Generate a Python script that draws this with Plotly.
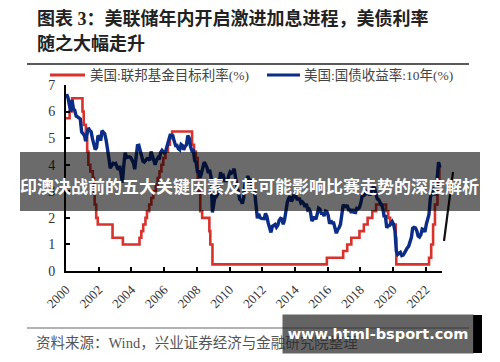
import pandas as pd
import plotly.graph_objects as go

# ---------------- text ----------------
title_line1 = "图表 3：美联储年内开启激进加息进程，美债利率"
title_line2 = "随之大幅走升"
source_text = "资料来源：Wind，兴业证券经济与金融研究院整理"
banner_text = "印澳决战前的五大关键因素及其可能影响比赛走势的深度解析"
watermark_text = "www.html-bsport.com"

fed_name = "美国:联邦基金目标利率(%)"
ust_name = "美国:国债收益率:10年(%)"

# ---------------- data ----------------
# Fed funds target rate (upper bound), step changes
fed_dates = [
    "2000-01-01", "2000-03-21", "2000-05-16",
    "2001-01-03", "2001-01-31", "2001-03-20", "2001-04-18", "2001-05-15",
    "2001-06-27", "2001-08-21", "2001-09-17", "2001-10-02", "2001-11-06",
    "2001-12-11", "2002-11-06", "2003-06-25",
    "2004-06-30", "2004-08-10", "2004-09-21", "2004-11-10", "2004-12-14",
    "2005-02-02", "2005-03-22", "2005-05-03", "2005-06-30", "2005-08-09",
    "2005-09-20", "2005-11-01", "2005-12-13", "2006-01-31", "2006-03-28",
    "2006-05-10", "2006-06-29",
    "2007-09-18", "2007-10-31", "2007-12-11", "2008-01-22", "2008-01-30",
    "2008-03-18", "2008-04-30", "2008-10-08", "2008-10-29", "2008-12-16",
    "2015-12-16", "2016-12-14", "2017-03-15", "2017-06-14", "2017-12-13",
    "2018-03-21", "2018-06-13", "2018-09-26", "2018-12-19",
    "2019-07-31", "2019-09-18", "2019-10-30", "2020-03-03", "2020-03-15",
    "2022-03-16", "2022-05-04", "2022-06-15", "2022-07-27", "2022-09-21",
    "2022-11-02", "2022-11-30",
]
fed_values = [
    5.75, 6.0, 6.5,
    6.0, 5.5, 5.0, 4.5, 4.0,
    3.75, 3.5, 3.0, 2.5, 2.0,
    1.75, 1.25, 1.0,
    1.25, 1.5, 1.75, 2.0, 2.25,
    2.5, 2.75, 3.0, 3.25, 3.5,
    3.75, 4.0, 4.25, 4.5, 4.75,
    5.0, 5.25,
    4.75, 4.5, 4.25, 3.5, 3.0,
    2.25, 2.0, 1.5, 1.0, 0.25,
    0.5, 0.75, 1.0, 1.25, 1.5,
    1.75, 2.0, 2.25, 2.5,
    2.25, 2.0, 1.75, 1.25, 0.25,
    0.5, 1.0, 1.75, 2.5, 3.25,
    4.0, 4.0,
]

# US 10Y Treasury yield, monthly readings 2000-01 .. 2022-11
ust_values = [
    6.66, 6.52, 6.26, 5.99, 6.44, 6.10, 6.05, 5.83, 5.80, 5.74, 5.72, 5.24,
    5.16, 5.10, 4.89, 5.14, 5.39, 5.28, 5.24, 4.97, 4.73, 4.57, 4.65, 5.09,
    5.04, 4.91, 5.28, 5.21, 5.16, 4.93, 4.65, 4.26, 3.87, 3.94, 4.05, 4.03,
    4.05, 3.90, 3.81, 3.96, 3.57, 3.33, 3.98, 4.45, 4.27, 4.29, 4.30, 4.27,
    4.15, 4.08, 3.83, 4.35, 4.72, 4.73, 4.50, 4.28, 4.13, 4.10, 4.19, 4.23,
    4.22, 4.17, 4.50, 4.34, 4.14, 4.00, 4.18, 4.26, 4.20, 4.46, 4.54, 4.47,
    4.42, 4.57, 4.72, 4.99, 5.11, 5.11, 5.09, 4.88, 4.72, 4.73, 4.60, 4.56,
    4.76, 4.72, 4.56, 4.69, 4.75, 5.10, 5.00, 4.67, 4.52, 4.53, 4.15, 4.10,
    3.74, 3.74, 3.51, 3.68, 3.88, 4.10, 4.01, 3.89, 3.69, 3.81, 3.53, 2.20,
    2.52, 2.87, 2.82, 2.93, 3.29, 3.72, 3.56, 3.59, 3.40, 3.39, 3.40, 3.59,
    3.73, 3.69, 3.73, 3.85, 3.42, 3.20, 3.01, 2.70, 2.65, 2.54, 2.76, 3.29,
    3.39, 3.58, 3.41, 3.46, 3.17, 3.00, 3.00, 2.30, 1.98, 2.15, 2.01, 1.98,
    1.97, 1.97, 2.17, 2.05, 1.80, 1.62, 1.45, 1.68, 1.72, 1.75, 1.65, 1.72,
    1.91, 1.98, 1.96, 1.76, 1.93, 2.30, 2.58, 2.74, 2.81, 2.62, 2.72, 2.90,
    2.86, 2.71, 2.72, 2.71, 2.56, 2.60, 2.54, 2.42, 2.53, 2.30, 2.33, 2.21,
    1.88, 1.98, 2.04, 1.94, 2.20, 2.36, 2.32, 2.17, 2.17, 2.07, 2.26, 2.24,
    2.09, 1.78, 1.89, 1.81, 1.81, 1.64, 1.42, 1.56, 1.63, 1.76, 2.14, 2.49,
    2.43, 2.42, 2.48, 2.30, 2.30, 2.19, 2.32, 2.21, 2.20, 2.36, 2.35, 2.40,
    2.58, 2.86, 2.84, 2.87, 2.98, 2.91, 2.89, 2.89, 3.00, 3.15, 3.12, 2.83,
    2.71, 2.68, 2.57, 2.53, 2.40, 2.07, 2.06, 1.63, 1.70, 1.71, 1.81, 1.86,
    1.76, 1.50, 0.75, 0.62, 0.66, 0.70, 0.58, 0.60, 0.68, 0.79, 0.87, 0.93,
    1.08, 1.26, 1.61, 1.64, 1.62, 1.52, 1.32, 1.28, 1.37, 1.58, 1.56, 1.47,
    1.76, 1.93, 2.13, 2.75, 2.90, 3.14, 2.90, 2.90, 3.52, 4.10, 3.89,
]
ust_dates = pd.date_range("2000-01-01", periods=len(ust_values), freq="MS") + pd.Timedelta(days=14)

x_tick_step_months = 24
y_range = [0, 7]
x_range = ["2000-01-01", "2022-12-31"]

# ---------------- styling / geometry ----------------
RED = "#d8322d"
BLUE = "#0c2d86"
W, H = 500, 362
PL, PR, PT, PB = 66, 442, 85, 271

def xp(px):
    return (px - PL) / (PR - PL)

def yp(py):
    return (PB - py) / (PB - PT)

SERIF = "Liberation Serif, Noto Sans CJK SC"

fig = go.Figure()
fig.add_trace(go.Scatter(x=fed_dates, y=fed_values, mode="lines", name=fed_name,
                         line=dict(color=RED, width=2.6, shape="hv"), showlegend=False))
fig.add_trace(go.Scatter(x=ust_dates, y=ust_values, mode="lines", name=ust_name,
                         line=dict(color=BLUE, width=3.4), showlegend=False))

fig.update_layout(
    width=W, height=H,
    margin=dict(l=PL, r=W - PR, t=PT, b=H - PB, pad=0, autoexpand=False),
    paper_bgcolor="white", plot_bgcolor="white",
    showlegend=False,
)
fig.update_xaxes(
    type="date", range=x_range, tick0="2000-01-01", dtick="M%d" % x_tick_step_months,
    tickformat="%Y", tickangle=-45, ticks="inside", ticklen=4, tickwidth=1.5, tickcolor="black",
    showline=True, linecolor="black", linewidth=2, showgrid=False, zeroline=False,
    tickfont=dict(family=SERIF, size=13, color="#333"), automargin=False, ticklabelstandoff=4,
)
fig.update_yaxes(
    range=y_range, dtick=1, ticks="inside", ticklen=4, tickwidth=1.5, tickcolor="black",
    showline=True, linecolor="black", linewidth=2, showgrid=False, zeroline=False,
    tickfont=dict(family=SERIF, size=14, color="#333"), ticklabelstandoff=6, automargin=False,
)

shapes = []
annotations = []

# title rule and footer rule
shapes.append(dict(type="line", xref="paper", yref="paper", x0=xp(27), x1=xp(469), y0=yp(64), y1=yp(64),
                   line=dict(color="#222", width=1.5)))
shapes.append(dict(type="line", xref="paper", yref="paper", x0=xp(27), x1=xp(469), y0=yp(328), y1=yp(328),
                   line=dict(color="#666", width=1)))

# titles
annotations.append(dict(text=title_line1, xref="paper", yref="paper", x=xp(35), y=yp(18),
                        xanchor="left", yanchor="middle", showarrow=False,
                        font=dict(family=SERIF, size=18, color="#222", weight="bold")))
annotations.append(dict(text=title_line2, xref="paper", yref="paper", x=xp(35), y=yp(43.5),
                        xanchor="left", yanchor="middle", showarrow=False,
                        font=dict(family=SERIF, size=18, color="#222", weight="bold")))

# manual legend
shapes.append(dict(type="line", xref="paper", yref="paper", x0=xp(50), x1=xp(85), y0=yp(75), y1=yp(75),
                   line=dict(color=RED, width=3)))
annotations.append(dict(text=fed_name, xref="paper", yref="paper", x=xp(88), y=yp(75),
                        xanchor="left", yanchor="middle", showarrow=False,
                        font=dict(family=SERIF, size=13.5, color="#444")))
shapes.append(dict(type="line", xref="paper", yref="paper", x0=xp(267), x1=xp(300), y0=yp(75), y1=yp(75),
                   line=dict(color=BLUE, width=3)))
annotations.append(dict(text=ust_name, xref="paper", yref="paper", x=xp(302), y=yp(75),
                        xanchor="left", yanchor="middle", showarrow=False,
                        font=dict(family=SERIF, size=13.5, color="#444")))

# stray black stroke at right
shapes.append(dict(type="line", xref="paper", yref="paper", x0=xp(444), x1=xp(453), y0=yp(241), y1=yp(172),
                   line=dict(color="#111", width=2.2)))

# grey banner over chart
shapes.append(dict(type="rect", xref="paper", yref="paper", x0=xp(20), x1=xp(480), y0=yp(152), y1=yp(211),
                   fillcolor="rgba(0,0,0,0.58)", line=dict(width=0), layer="above"))
annotations.append(dict(text=banner_text, xref="paper", yref="paper", x=xp(249), y=yp(185),
                        xanchor="center", yanchor="middle", showarrow=False,
                        font=dict(family="Noto Sans CJK SC", size=17, color="white", weight="bold")))

# source line (below watermark)
annotations.append(dict(text=source_text, xref="paper", yref="paper", x=xp(34), y=yp(343),
                        xanchor="left", yanchor="middle", showarrow=False,
                        font=dict(family=SERIF, size=14.5, color="#555")))

# watermark box
shapes.append(dict(type="rect", xref="paper", yref="paper", x0=xp(473), x1=xp(482), y0=yp(315), y1=yp(353),
                   fillcolor="black", line=dict(width=0), layer="above"))
annotations.append(dict(text=watermark_text, xref="paper", yref="paper", x=xp(378), y=yp(334),
                        xanchor="center", yanchor="middle", showarrow=False,
                        width=190, height=38, bgcolor="rgba(40,40,40,0.72)", borderpad=0,
                        font=dict(family="DejaVu Sans", size=14.5, color="white", weight="bold")))

fig.update_layout(shapes=shapes, annotations=annotations)
fig.write_html("out.html", config={"displayModeBar": False},
               post_script="document.body.style.margin='0';")
